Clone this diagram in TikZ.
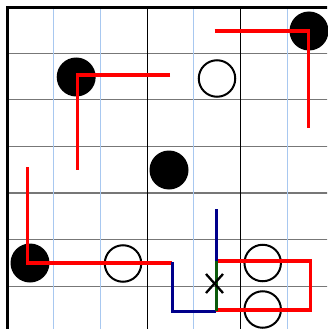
\documentclass[tikz,border=0pt]{standalone}
\definecolor{gridblue}{HTML}{A8C8F0}
\definecolor{gridgray}{HTML}{777777}
\definecolor{navyline}{HTML}{00008B}
\definecolor{greenline}{HTML}{0B5A0B}
\begin{document}
\begin{tikzpicture}[x=1pt,y=-1pt,
  bluegrid/.style={draw=gridblue, line width=1pt},
  graygrid/.style={draw=gridgray, line width=1.3pt},
  blackgrid/.style={draw=black, line width=1pt},
  border/.style={draw=black, line width=3pt},
  blackstone/.style={circle, fill=black, minimum size=39pt, inner sep=0pt},
  whitestone/.style={circle, draw=black, line width=2pt, fill=none, minimum size=36.5pt, inner sep=0pt},
  redline/.style={draw=red, line width=3.5pt},
  blueline/.style={draw=navyline, line width=3pt},
  greenline/.style={draw=greenline, line width=3pt},
  xmark/.style={draw=black, line width=2.3pt}]
\useasboundingbox (0,0) rectangle (327,329);
\fill[white] (0,0) rectangle (327,329);
\begin{scope}
\clip (0,0) rectangle (327,329);
% horizontal grid lines
\foreach \y in {53.3,99.8,146.4,193,239.7,286.2}
  \draw[graygrid] (7,\y) -- (330,\y);
% vertical grid lines
\foreach \x in {53.3,100,193.7,287}
  \draw[bluegrid] (\x,8) -- (\x,332);
\foreach \x in {147,240}
  \draw[blackgrid] (\x,8) -- (\x,332);
% borders
\draw[border] (7,332) -- (7,8) -- (330,8);
\end{scope}
% stones
\node[blackstone] (b1) at (76.2,77) {};
\node[blackstone] (b2) at (309,31) {};
\node[blackstone] (b3) at (169,170) {};
\node[blackstone] (b4) at (30,263) {};
\node[whitestone] (w1) at (217,78.5) {};
\node[whitestone] (w2) at (123,263.5) {};
\node[whitestone] (w3) at (262.7,263) {};
\node[whitestone] (w4) at (262.7,309.5) {};
% path points
\coordinate (r1a) at (170,75);
\coordinate (r1c) at (77.3,75);
\coordinate (r1b) at (77.3,170);
\coordinate (r2a) at (214.7,31);
\coordinate (r2c) at (308.5,31);
\coordinate (r2b) at (308.5,128.3);
\coordinate (r3a) at (27.3,167);
\coordinate (r3c) at (27.3,263);
\coordinate (r3b) at (172,263);
\coordinate (q1) at (216,261);
\coordinate (q2) at (310.7,261);
\coordinate (q3) at (310.7,310);
\coordinate (q4) at (216,310);
\coordinate (p1) at (172,262);
\coordinate (p2) at (172,311);
\coordinate (p3) at (216,311);
\coordinate (p4) at (216,261);
\coordinate (p5) at (216,209);
% red lines
\draw[redline] (r1a) -- (r1c) -- (r1b);
\draw[redline] (r2a) -- (r2c) -- (r2b);
\draw[redline] (r3a) -- (r3c) -- (r3b);
\draw[redline] (q1) -- (q2) -- (q3) -- (q4);
% blue and green path
\draw[blueline] (p1) -- (p2) -- (p3);
\draw[blueline] (p4) -- (p5);
\draw[greenline] (p3) -- (p4);
% X mark
\coordinate (xc) at (214.5,283.5);
\draw[xmark] ([shift={(-8.5,-9.5)}]xc) -- ([shift={(8.5,9.5)}]xc);
\draw[xmark] ([shift={(-8.5,9.5)}]xc) -- ([shift={(8.5,-9.5)}]xc);
\end{tikzpicture}
\end{document}
